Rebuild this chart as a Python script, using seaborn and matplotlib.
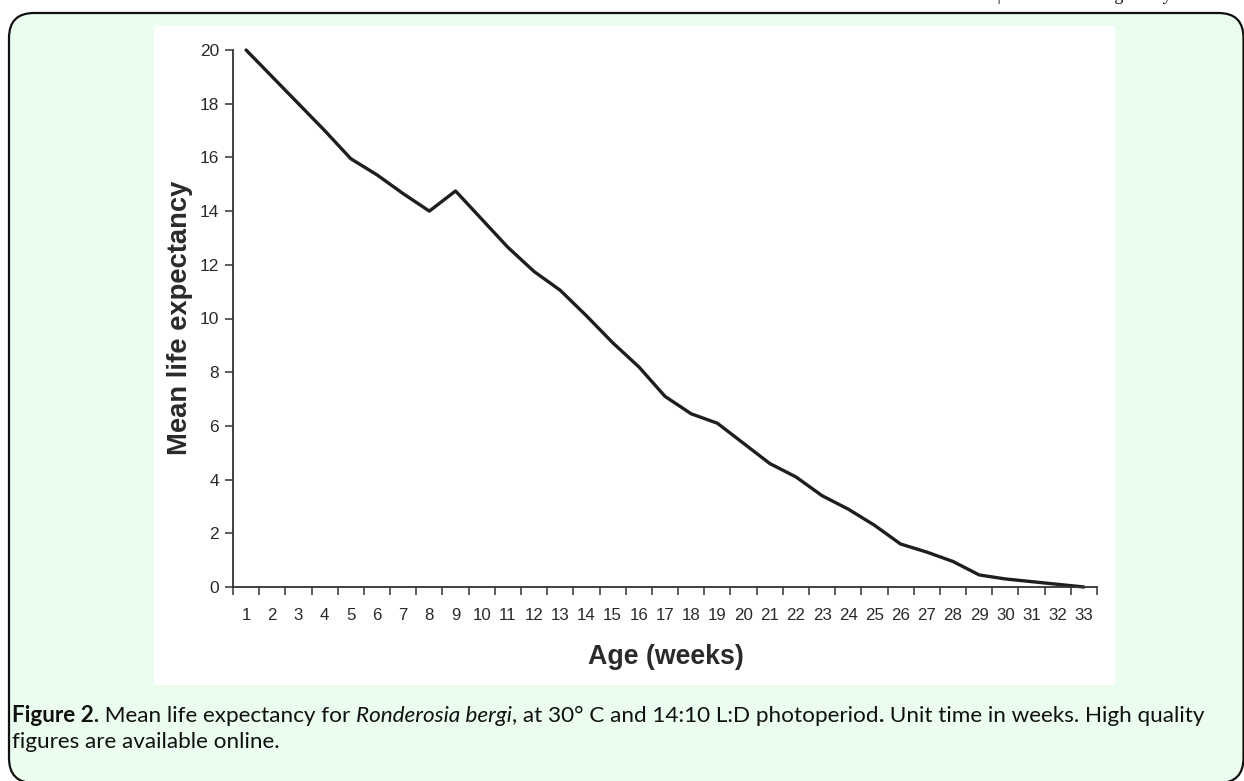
import numpy as np
import pandas as pd
import matplotlib
matplotlib.use("Agg")
import matplotlib.pyplot as plt
from matplotlib.patches import FancyBboxPatch, Rectangle
from matplotlib.ticker import FixedLocator
import seaborn as sns

# values
weeks = list(range(1, 34))
mean_life = [20.0, 19.0, 18.0, 17.0, 15.95, 15.35, 14.65, 14.0, 14.75, 13.7,
             12.65, 11.75, 11.05, 10.1, 9.1, 8.2, 7.1, 6.45, 6.1, 5.35,
             4.6, 4.1, 3.4, 2.9, 2.3, 1.6, 1.3, 0.95, 0.45, 0.3,
             0.2, 0.1, 0.0]
y_ticks = list(range(0, 21, 2))

caption_1 = [("Figure 2.", "bold", "normal"),
             (" Mean life expectancy for ", "normal", "normal"),
             ("Ronderosia bergi", "normal", "italic"),
             (", at 30° C and 14:10 L:D photoperiod", "normal", "normal"),
             (".", "bold", "normal"),
             (" Unit time in weeks. High quality", "normal", "normal")]
caption_2 = "figures are available online."

df = pd.DataFrame({"week": weeks, "life": mean_life})

sns.set_style("white")
plt.rcParams["font.family"] = ["Liberation Sans", "DejaVu Sans"]

W, H = 1244, 781
fig = plt.figure(figsize=(W / 100, H / 100), dpi=100, facecolor="white")

# green caption box (runs off the right and bottom edge) and white panel
box = FancyBboxPatch((0.09 + 0.25, -0.02 + 0.25), 12.345 - 0.5, 7.70 - 0.5,
                     boxstyle="round,pad=0.25", transform=fig.dpi_scale_trans,
                     facecolor="#eafdee", edgecolor="#111111", linewidth=1.6,
                     zorder=-2)
fig.patches.append(box)
panel = Rectangle((1.54, (H - 685) / 100), 11.15 - 1.54, (685 - 26) / 100,
                  transform=fig.dpi_scale_trans, facecolor="white",
                  edgecolor="none", zorder=-1)
fig.patches.append(panel)

left, right = 233 / W, 1097 / W
bottom, top = 1 - 587 / H, 1 - 50 / H
ax = fig.add_axes([left, bottom, right - left, top - bottom])
ax.patch.set_alpha(0)

sns.lineplot(data=df, x="week", y="life", ax=ax, color="#1e1e1e",
             linewidth=2.4, clip_on=False)

ax.set_xlim(0.5, 33.5)
ax.set_ylim(0, 20)
ax.set_yticks(y_ticks)
ax.set_xticks(weeks)
ax.xaxis.set_minor_locator(FixedLocator(np.arange(0.5, 34, 1)))
ax.tick_params(axis="x", which="major", length=0, pad=15, labelsize=12.2,
               labelcolor="#2a2a2a")
ax.tick_params(axis="x", which="minor", length=6, width=1.1, color="#333333",
               direction="out", bottom=True)
ax.tick_params(axis="y", which="major", length=6, width=1.1, color="#333333",
               direction="out", left=True, pad=4, labelsize=12.5,
               labelcolor="#2a2a2a")
sns.despine(ax=ax)
for s in ["left", "bottom"]:
    ax.spines[s].set_color("#333333")
    ax.spines[s].set_linewidth(1.3)

ax.set_xlabel("")
ax.set_ylabel("")
fig.text(180 / W, 1 - 318 / H, "Mean life expectancy", rotation=90,
         ha="center", va="center", fontsize=19.7, fontweight="bold",
         color="#2a2a2a")
fig.text(666 / W, 1 - 657 / H, "Age (weeks)", ha="center", va="center",
         fontsize=19.3, fontweight="bold", color="#2a2a2a")

# clipped running head at the very top of the page
fig.text(1172 / W, 1 - 0.5 / H, "Journal of Insect Science | Ronderosia bergi study",
         ha="right", va="baseline", fontsize=13, family="Liberation Serif",
         color="#111111")

# caption, pieced together so bold/italic runs follow each other
renderer = fig.canvas.get_renderer()
x = 12
cap_size = 16.2
for txt, weight, style in caption_1:
    t = fig.text(x / W, 1 - 722 / H, txt, fontsize=cap_size, fontweight=weight,
                 fontstyle=style, family="Lato", color="#111111",
                 va="baseline", ha="left")
    bb = t.get_window_extent(renderer)
    x += bb.width
fig.text(12 / W, 1 - 748 / H, caption_2, fontsize=cap_size, family="Lato",
         color="#111111", va="baseline", ha="left")

fig.savefig("out.png", dpi=100, facecolor="white")
